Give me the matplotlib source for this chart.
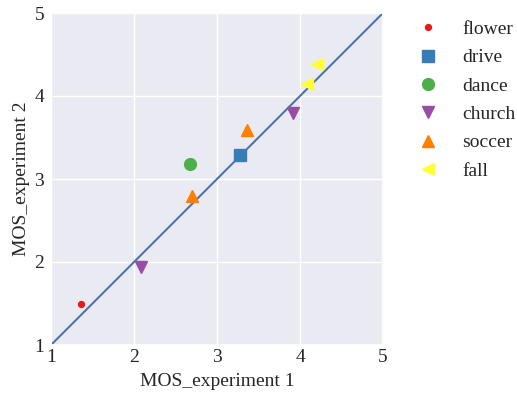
import matplotlib
matplotlib.use("Agg")
import matplotlib.pyplot as plt
import seaborn as sns

sns.set_theme(style="darkgrid")
plt.rcParams['font.family'] = ['Liberation Serif', 'DejaVu Serif']

categories = ["flower", "drive", "dance", "church", "soccer", "fall"]
mos1 = {
    "flower": [1.36],
    "drive": [3.28],
    "dance": [2.67],
    "church": [2.09, 3.92],
    "soccer": [2.70, 3.36],
    "fall": [4.09, 4.21],
}
mos2 = {
    "flower": [1.49],
    "drive": [3.29],
    "dance": [3.18],
    "church": [1.94, 3.80],
    "soccer": [2.79, 3.59],
    "fall": [4.15, 4.39],
}
colors = ["#e41a1c", "#377eb8", "#4daf4a", "#984ea3", "#ff7f00", "#ffff33"]
markers = [".", "s", "o", "v", "^", "<"]
sizes = [8.5, 9, 8.5, 8.5, 8.5, 9]

fig = plt.figure(figsize=(5.17, 3.95), dpi=100)
ax = fig.add_axes([51/517, 1-345/395, 332/517, 332/395])

ax.plot([1, 5], [1, 5], color="#4c72b0", lw=1.5, zorder=2)
for c, col, m, s in zip(categories, colors, markers, sizes):
    ax.plot(mos1[c], mos2[c], linestyle="none", marker=m, color=col,
            markersize=s, label=c, zorder=3)

ax.set_xlim(1, 5)
ax.set_ylim(1, 5)
ax.set_xticks([1, 2, 3, 4, 5])
ax.set_yticks([1, 2, 3, 4, 5])
ax.tick_params(labelsize=14, length=0)
ax.tick_params(axis="x", pad=3)
ax.tick_params(axis="y", pad=5)
ax.set_xlabel("MOS_experiment 1", fontsize=14, labelpad=5)
ax.set_ylabel("MOS_experiment 2", fontsize=14, labelpad=3)
ax.legend(loc="upper left", bbox_to_anchor=(1.023, 1.03), frameon=False,
          fontsize=14, labelspacing=0.55, handletextpad=0.8)

fig.savefig("out.png", dpi=100)
